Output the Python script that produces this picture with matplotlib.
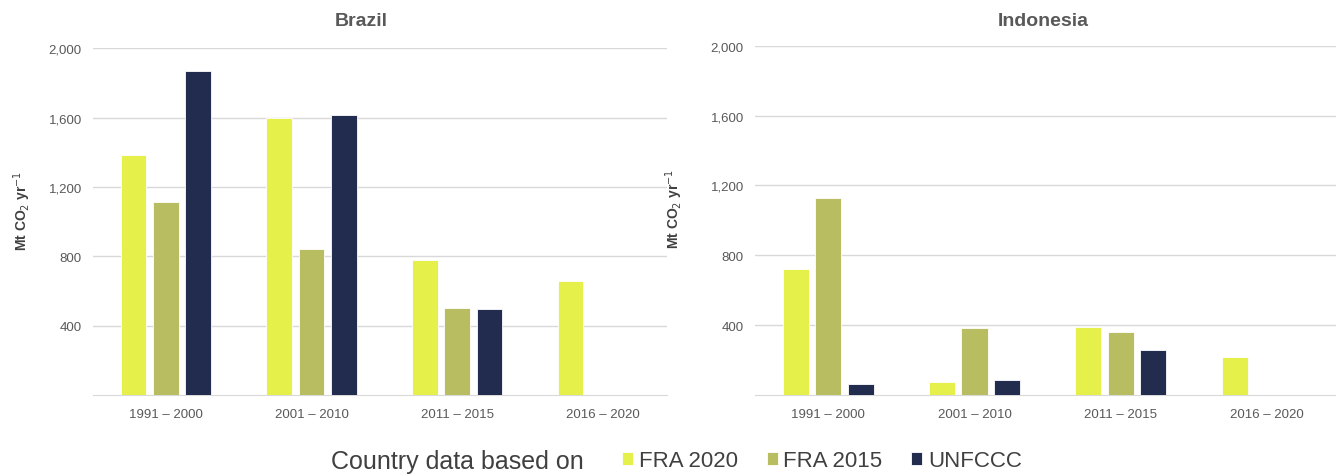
import matplotlib.pyplot as plt
import numpy as np

plt.rcParams["font.family"] = ["Liberation Sans", "DejaVu Sans"]

periods = ["1991 – 2000", "2001 – 2010", "2011 – 2015", "2016 – 2020"]
series = ["FRA 2020", "FRA 2015", "UNFCCC"]

brazil_fra2020 = [1385, 1600, 780, 655]
brazil_fra2015 = [1112, 842, 500, np.nan]
brazil_unfccc = [1872, 1618, 496, np.nan]

indonesia_fra2020 = [722, 73, 388, 216]
indonesia_fra2015 = [1127, 386, 363, np.nan]
indonesia_unfccc = [63, 86, 260, np.nan]

colors = ["#E5F04A", "#B8BD62", "#212C4E"]
text_grey = "#595959"

fig = plt.figure(figsize=(13.36, 4.77), dpi=100)
ax_b = fig.add_axes([0.0696, 0.1698, 0.4296, 0.7268])
ax_i = fig.add_axes([0.5651, 0.1698, 0.4349, 0.7323])

x = np.arange(len(periods))
step = 0.222
width = 0.178


def draw(ax, data, right):
    for i, vals in enumerate(data):
        ax.bar(x + (i - 1) * step, vals, width, color=colors[i], edgecolor="white",
               linewidth=0.6, zorder=3, label=series[i])
    ax.set_ylim(0, 2000)
    ax.set_xlim(-0.5, right)
    ax.set_yticks([400, 800, 1200, 1600, 2000])
    ax.set_yticklabels(["400", "800", "1,200", "1,600", "2,000"])
    ax.yaxis.grid(True, color="#D9D9D9", linewidth=1, zorder=0)
    ax.set_xticks(x)
    ax.set_xticklabels(periods)
    ax.tick_params(axis="both", length=0, labelsize=9.5, labelcolor=text_grey)
    ax.tick_params(axis="x", pad=9)
    ax.tick_params(axis="y", pad=8)
    for s in ["top", "right", "left"]:
        ax.spines[s].set_visible(False)
    ax.spines["bottom"].set_color("#D9D9D9")
    ax.set_ylabel("Mt CO$_2$ yr$^{-1}$", fontsize=10, fontweight="bold", color="#404040")


draw(ax_b, [brazil_fra2020, brazil_fra2015, brazil_unfccc], 3.44)
draw(ax_i, [indonesia_fra2020, indonesia_fra2015, indonesia_unfccc], 3.47)
ax_b.yaxis.set_label_coords(-0.105, 0.535)
ax_i.yaxis.set_label_coords(-0.12, 0.535)

fig.text(361 / 1336, 1 - 21 / 477, "Brazil", fontsize=14, fontweight="bold",
         color=text_grey, ha="center", va="center")
fig.text(1043 / 1336, 1 - 21 / 477, "Indonesia", fontsize=14, fontweight="bold",
         color=text_grey, ha="center", va="center")

fig.text(331 / 1336, 1 - 462 / 477, "Country data based on", fontsize=18, color="#404040",
         va="center", ha="left")
handles, labels = ax_b.get_legend_handles_labels()
fig.legend(handles, labels, loc="center left", bbox_to_anchor=(602 / 1336, 1 - 462 / 477),
           ncol=3, frameon=False, fontsize=16, handlelength=0.5, handleheight=0.5,
           handletextpad=0.25, columnspacing=1.3, labelcolor="#404040")

fig.savefig("out.png", dpi=100)
